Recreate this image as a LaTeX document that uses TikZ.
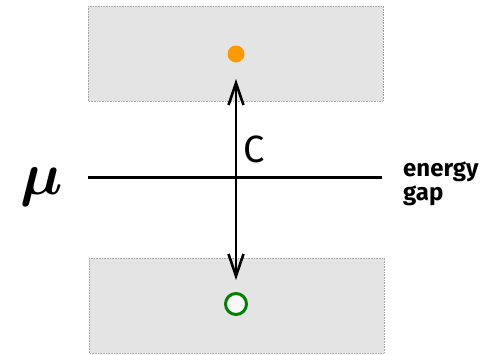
\documentclass[tikz,border=0pt]{standalone}
\usepackage{fontspec}
\usepackage{amsmath,bm}
\setsansfont{Fira Sans}
\usetikzlibrary{arrows.meta}
\definecolor{bandgray}{RGB}{228,228,228}
\definecolor{dotorange}{RGB}{255,153,0}
\definecolor{holegreen}{RGB}{0,128,0}
\begin{document}
\begin{tikzpicture}[x=1pt,y=-1pt,
  band/.style={fill=bandgray,draw=gray!70,densely dotted,line width=0.6pt},
  axis/.style={line width=3pt,black},
  arr/.style={line width=2.6pt,-{Straight Barb[length=22pt,width=15pt,line width=2.6pt]}},
  lbl/.style={font=\sffamily, inner sep=0pt}]
\useasboundingbox (0,0) rectangle (500,354);
\draw[band] (88,6) rectangle (383,101);
\draw[band] (89,258) rectangle (384,353);
\coordinate (L) at (88,177);
\coordinate (R) at (382,177);
\coordinate (O) at (236,177);
\coordinate (T) at (236,79);
\coordinate (B) at (236,280);
\draw[axis] (L) -- (R);
\draw[arr] (O) -- (T);
\draw[arr] (O) -- (B);
\node[circle,fill=dotorange,minimum size=17pt,inner sep=0pt] (e) at (236,54) {};
\node[circle,draw=holegreen,fill=white!95!gray,line width=3pt,minimum size=21pt,inner sep=0pt] (h) at (236,304) {};
\node[lbl,font=\sffamily\fontsize{38}{38}\selectfont] (c) at (254,149) {C};
\node[inner sep=0pt,scale=6] (mu) at (42,187) {$\bm{\mu}$};
\node[lbl,font=\sffamily\bfseries\fontsize{24}{24}\selectfont,align=left,anchor=west] (g) at (403,184) {energy\\gap};
\end{tikzpicture}
\end{document}
